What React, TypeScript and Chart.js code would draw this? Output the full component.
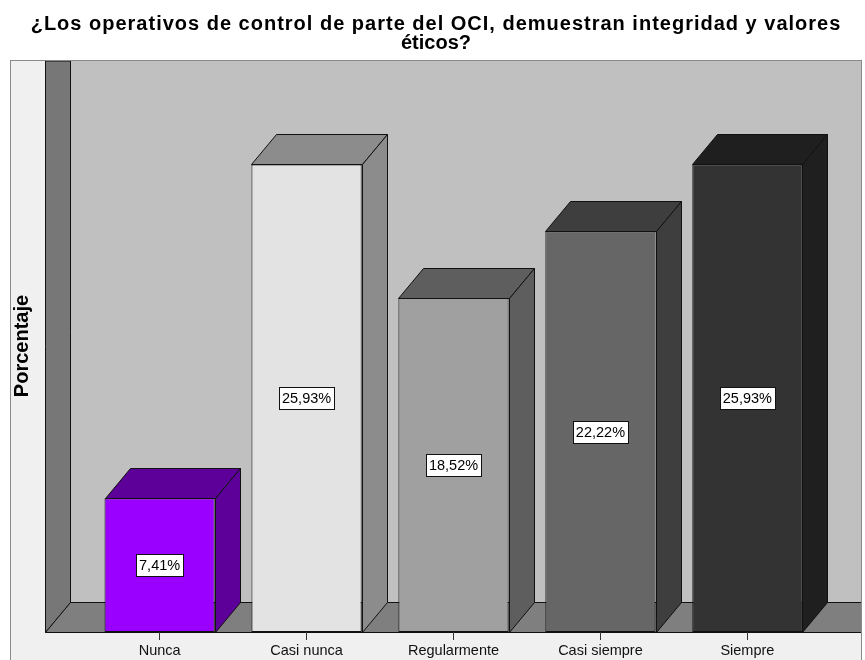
import { useEffect, useRef } from 'react';
import { Chart, registerables } from 'chart.js';

Chart.register(...registerables);

// ---- data ----
const categories = ['Nunca', 'Casi nunca', 'Regularmente', 'Casi siempre', 'Siempre'];
const percentages = [7.41, 25.93, 18.52, 22.22, 25.93];
const valueLabels = ['7,41%', '25,93%', '18,52%', '22,22%', '25,93%'];
const titleLines = [
  '¿Los operativos de control de parte del OCI, demuestran integridad y valores',
  'éticos?',
];
const yAxisTitle = 'Porcentaje';

// ---- styles ----
const frontColors = ['#9900ff', '#e3e3e3', '#a0a0a0', '#666666', '#333333'];
const shadeColors = ['#5c0099', '#8c8c8c', '#5e5e5e', '#3e3e3e', '#1f1f1f'];
const FONT = "'Liberation Sans', Arial, sans-serif";
const DX = 25;
const DY = 30;
const FRAME_LEFT = 10;
const FRAME_TOP = 60;

const threeD = {
  id: 'threeD',
  beforeDraw(chart: any) {
    const { ctx, chartArea: a, width, height } = chart;
    const L = a.left, R = a.right, T = a.top, B = a.bottom;
    ctx.save();
    ctx.fillStyle = '#ffffff';
    ctx.fillRect(0, 0, width, height);
    // outer frame
    ctx.fillStyle = '#f0f0f0';
    ctx.fillRect(FRAME_LEFT, FRAME_TOP, R - FRAME_LEFT, height - FRAME_TOP);
    ctx.strokeStyle = '#8a8a8a';
    ctx.lineWidth = 1;
    ctx.strokeRect(FRAME_LEFT + 0.5, FRAME_TOP + 0.5, R - FRAME_LEFT - 1, height - FRAME_TOP + 5);
    ctx.beginPath();
    ctx.rect(FRAME_LEFT + 1, FRAME_TOP + 1, R - FRAME_LEFT - 2, height - FRAME_TOP);
    ctx.clip();
    // back wall
    ctx.fillStyle = '#c0c0c0';
    ctx.fillRect(L + DX, T - DY, R - L, B - T);
    ctx.strokeStyle = '#111';
    // left wall
    ctx.beginPath();
    ctx.moveTo(L + 0.5, T - DY);
    ctx.lineTo(L + DX + 0.5, T - DY);
    ctx.lineTo(L + DX + 0.5, B - DY + 0.5);
    ctx.lineTo(L + 0.5, B + 0.5);
    ctx.closePath();
    ctx.fillStyle = '#777777';
    ctx.fill();
    ctx.stroke();
    // floor
    ctx.beginPath();
    ctx.moveTo(L + 0.5, B + 0.5);
    ctx.lineTo(L + DX + 0.5, B - DY + 0.5);
    ctx.lineTo(R + DX, B - DY + 0.5);
    ctx.lineTo(R + DX, B + 0.5);
    ctx.closePath();
    ctx.fillStyle = '#7f7f7f';
    ctx.fill();
    ctx.stroke();
    ctx.restore();

    // titles
    ctx.save();
    ctx.fillStyle = '#000';
    ctx.font = `bold 20px ${FONT}`;
    ctx.textAlign = 'center';
    ctx.textBaseline = 'alphabetic';
    (ctx as any).letterSpacing = '1px';
    ctx.fillText(titleLines[0], 436, 30);
    (ctx as any).letterSpacing = '0px';
    ctx.fillText(titleLines[1], 436, 49);
    ctx.translate(28, 346);
    ctx.rotate(-Math.PI / 2);
    ctx.font = `bold 20px ${FONT}`;
    ctx.fillText(yAxisTitle, 0, 0);
    ctx.restore();
  },
  afterDatasetsDraw(chart: any) {
    const { ctx } = chart;
    const meta = chart.getDatasetMeta(0);
    ctx.save();
    ctx.lineWidth = 1;
    ctx.strokeStyle = '#111';
    meta.data.forEach((el: any, i: number) => {
      const { x, y, base, width } = el.getProps(['x', 'y', 'base', 'width'], true);
      const l = Math.round(x - width / 2) + 0.5;
      const r = Math.round(x + width / 2) + 0.5;
      const t = Math.round(y) + 0.5;
      const b = Math.round(base) + 0.5;
      ctx.fillStyle = shadeColors[i];
      // top
      ctx.beginPath();
      ctx.moveTo(l, t);
      ctx.lineTo(l + DX, t - DY);
      ctx.lineTo(r + DX, t - DY);
      ctx.lineTo(r, t);
      ctx.closePath();
      ctx.fill();
      ctx.stroke();
      // side
      ctx.beginPath();
      ctx.moveTo(r, t);
      ctx.lineTo(r + DX, t - DY);
      ctx.lineTo(r + DX, b - DY);
      ctx.lineTo(r, b);
      ctx.closePath();
      ctx.fill();
      ctx.stroke();
    });
    // value labels
    ctx.font = `14.5px ${FONT}`;
    ctx.textAlign = 'center';
    ctx.textBaseline = 'middle';
    meta.data.forEach((el: any, i: number) => {
      const { x, y, base } = el.getProps(['x', 'y', 'base'], true);
      const cy = Math.round((y + base) / 2);
      const txt = valueLabels[i];
      const w = Math.round(ctx.measureText(txt).width) + 6;
      const h = 22;
      const bx = Math.round(x - w / 2) + 0.5;
      const by = Math.round(cy - h / 2) + 0.5;
      ctx.fillStyle = '#ffffff';
      ctx.fillRect(bx, by, w, h);
      ctx.strokeStyle = '#111';
      ctx.strokeRect(bx, by, w, h);
      ctx.fillStyle = '#000';
      ctx.fillText(txt, x, cy + 1);
    });
    ctx.restore();
  },
};

export default function App() {
  const ref = useRef<HTMLCanvasElement>(null);
  useEffect(() => {
    const canvas = ref.current;
    if (!canvas) return;
    const chart = new Chart(canvas, {
      type: 'bar',
      data: {
        datasets: [
          {
            data: categories.map((_, i) => ({ x: i, y: percentages[i] })),
            backgroundColor: frontColors,
            borderColor: '#111',
            borderWidth: 1,
            borderSkipped: false,
            barPercentage: 0.75,
            categoryPercentage: 1,
          },
        ],
      },
      options: {
        responsive: false,
        animation: false,
        devicePixelRatio: 1,
        layout: { padding: { left: 45, right: 3, top: 91, bottom: 0 } },
        plugins: {
          legend: { display: false },
          tooltip: { enabled: false },
          title: { display: false },
        },
        scales: {
          x: {
            type: 'linear',
            min: -0.78,
            max: 4.78,
            offset: false,
            afterBuildTicks: (s: any) => {
              s.ticks = categories.map((_, i) => ({ value: i }));
            },
            afterFit: (s: any) => {
              s.height = 28;
            },
            ticks: {
              autoSkip: false,
              maxRotation: 0,
              padding: 2,
              color: '#111',
              font: { family: FONT, size: 14.5 },
              callback: (v: any) => categories[v as number] ?? '',
            },
            grid: { offset: false, drawOnChartArea: false, drawTicks: true, tickLength: 8, color: '#333' },
            border: { display: false },
          },
          y: { display: false, min: 0, max: 30 },
        },
      } as any,
      plugins: [threeD],
    });
    return () => chart.destroy();
  }, []);
  return (
    <div style={{ position: 'absolute', left: 0, top: 0 }}>
      <canvas ref={ref} width={865} height={660} style={{ display: 'block' }} />
    </div>
  );
}
